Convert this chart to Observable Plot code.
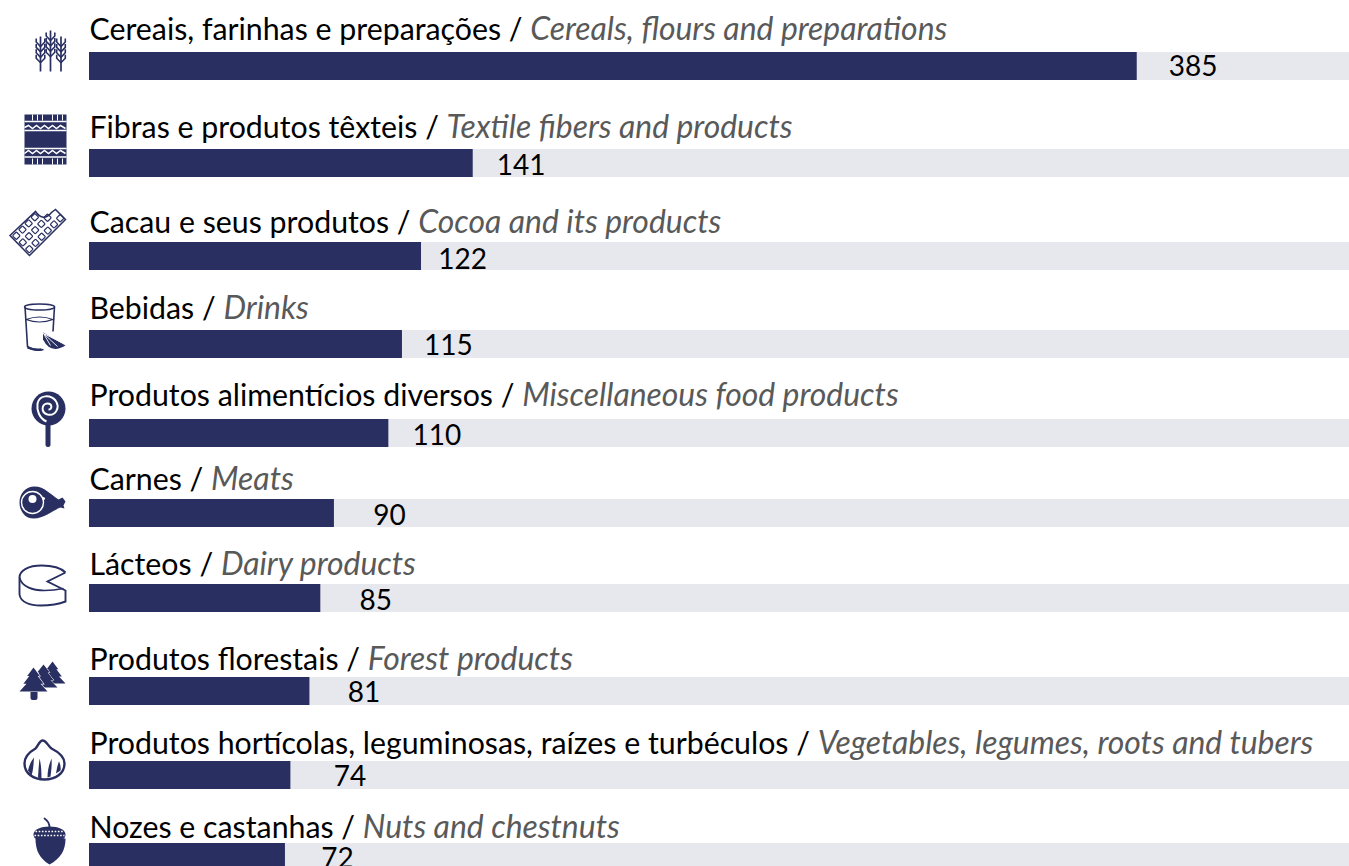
<!DOCTYPE html>
<html><head><meta charset="utf-8">
<script src="https://cdn.jsdelivr.net/npm/d3@7"></script>
<script src="https://cdn.jsdelivr.net/npm/@observablehq/plot@0.6"></script>
<style>
html,body{margin:0;padding:0;background:#fff;overflow:hidden}
svg{display:block}
</style></head><body><div id="chart"></div>
<script>
const labelsPt = ["Cereais, farinhas e preparações","Fibras e produtos têxteis","Cacau e seus produtos","Bebidas","Produtos alimentícios diversos","Carnes","Lácteos","Produtos florestais","Produtos hortícolas, leguminosas, raízes e turbéculos","Nozes e castanhas"];
const labelsEn = ["Cereals, flours and preparations","Textile fibers and products","Cocoa and its products","Drinks","Miscellaneous food products","Meats","Dairy products","Forest products","Vegetables, legumes, roots and tubers","Nuts and chestnuts"];
const values = [385,141,122,115,110,90,85,81,74,72];
const axisMax = 463;

// layout / style: pixel offsets from an evenly spaced row grid
const firstCenter = 66, lastCenter = 857;
const rowNudge = [66,163,256,344,433,513,598,691,775,857].map((c,i)=>c-(firstCenter+i*(lastCenter-firstCenter)/9));
const labelDy = [-36,-35,-33,-35,-37,-33,-33,-31,-31,-29];
const valueDy = [1,3,4,2,3,3,3,2,2,2];
const valueDx = [56,48,41,46,48,55,55,54,59,52];
const iconDy = [-16,-24,-24,-18,-14,-11,-12,-11,-16,-16];
const NAVY="#292f61", TRACK="#e7e8ee", GREY="#595959";

const iconCy=[50,139,232,326,419,502,586,680,759,841];
const S=`stroke="${NAVY}" fill="none"`, F=`fill="${NAVY}"`;
function wheatEar(x,t){let s=`<path d="M${x} ${t} V71" stroke-width="1.7" ${S}/>`;
  for(let i=0;i<4;i++){const y=t+2+i*5.4;s+=`<path d="M${x-4.3} ${y} V${y+3.5} L${x} ${y+8} L${x+4.3} ${y+3.5} V${y}" stroke-width="1.6" ${S}/>`;}
  return s;}
function choc(){
  let s=`<path d="M9.5 235 L35 211 Q43 222 51 212 L55 209 L65 219 L29 255Z" stroke-width="1.5" ${S}/>`;
  for(let i=0;i<6;i++)for(let j=0;j<3;j++){
    const cx=9.5+(i+.5)/6*37+(j+.5)/3*19.5, cy=235-(i+.5)/6*37+(j+.5)/3*20;
    if(cy<215.5&&cx>33&&cx<57)continue;
    s+=`<rect x="${cx-2.7}" y="${cy-2.7}" width="5.4" height="5.4" rx="0.8" transform="rotate(45 ${cx} ${cy})" stroke-width="1.2" ${S}/>`;}
  return s;}
function tree(x,y,h,w,front){
  const p=[[0,0],[.45,.35],[.3,.35],[.72,.68],[.5,.68],[1,1]];
  const pts=[...p.map(([a,b])=>[x+a*w,y+b*h]),...p.slice(1).reverse().map(([a,b])=>[x-a*w,y+b*h])];
  return `<path d="M${pts.map(q=>q.join(" ")).join("L")}Z" ${F} stroke="#fff" stroke-width="${front?1.2:1}" paint-order="stroke"/>`;}
const iconArt=[
 wheatEar(40,36)+wheatEar(50,30)+wheatEar(60.5,36),
 `<rect x="24" y="114" width="42" height="50" ${F}/>`+
 `<path d="M32 114V120M37 114V120M42 114V120M52 114V120M57 114V120M62 114V120M32 158V164M37 158V164M42 158V164M52 158V164M57 158V164M62 158V164" stroke="#fff" stroke-width="1"/>`+
 `<path d="M24 121H66M24 130H66M24 148H66M24 156.5H66" stroke="#fff" stroke-width="1.3"/>`+
 `<path d="M24 127L28 125L32 128L36 125L40 128L44 125L48 128L52 125L56 128L60 125L65 128M24 153L28 150L32 153L36 150L40 153L44 150L48 153L52 150L56 153L60 150L65 153" stroke="#fff" fill="none" stroke-width="1.5"/>`,
 choc(),
 `<path d="M24.5 306 L27 346 Q34 351 43 349M54 306 L52.5 331" stroke-width="1.6" ${S}/><path d="M27 347 Q34 350 41 349" stroke-width="2.4" ${S}/><ellipse cx="39" cy="306.5" rx="15" ry="3" stroke-width="1.4" ${S}/><path d="M25.5 319 Q39 324 52.5 319 Q39 314 25.5 319" stroke-width="1.2" ${S}/>`+
 `<path d="M41 330 L66 345 Q50 356 41 340Z" fill="#fff"/><path d="M42.5 332 L65 345 Q50 354 42.5 339Z" ${F}/><path d="M43 333 L50 345M43 333 L57 346M43 333 L61 342" stroke="#fff" stroke-width="0.9"/>`,
 `<path d="M47.5 424V444" stroke="${NAVY}" stroke-width="5" stroke-linecap="round"/><circle cx="48" cy="408" r="17" ${F}/><path d="M48 409 C52 409 52 403 47 403 C41 403 40 412 47 414 C55 416 60 407 55 400 C50 394 39 394 37 403 C36 410 39 418 46 421" stroke="#fff" stroke-width="2" fill="none"/>`,
 `<path d="M34 486 C44 486 50 494 58 499 L62 497 L65 501 L63 505 L64 508 L60 507 C52 510 44 518 33 518 C24 518 19 510 19 502 C19 493 25 486 34 486Z" ${F}/><circle cx="32" cy="502" r="11" stroke="#fff" stroke-width="1.4" fill="none"/><circle cx="32" cy="498.5" r="4" fill="#fff"/><circle cx="43" cy="498" r="1.5" fill="#fff"/>`,
 `<path d="M65 572 C60 567 50 565 41 565 C28 565 19 570 19 577 V594 C20 602 30 605 40 605 C50 605 60 603 65 601 V590 L47 581 L65 572" stroke-width="1.9" ${S}/><path d="M19 577 C21 586 32 590 44 590 C52 590 58 589 63 588" stroke-width="1.7" ${S}/>`,
 tree(52,661,22,13)+tree(43,664,23,14)+`<path d="M30 690 H37 V697.5 Q37 699.5 35 699.5 H32 Q30 699.5 30 697.5Z" ${F}/>`+tree(33,667,24,14,true),
 `<path d="M42 740 C46 740 47 745 51 748 C59 752 64 757 64 763 C64 773 55 779 44 779 C33 779 24 773 24 763 C24 757 28 752 35 748 C38 745 39 740 42 740Z" stroke-width="2.4" ${S}/><path d="M27.5 770 C29 764 31 760 33.5 757 C33 763 33 769 31 775ZM37.5 777 C38 769 38.5 763 39 758 C40.5 763 41 770 41 778ZM47 777 C47 769 49 763 51 758 C51.5 763 51 769 50 776ZM55.5 773 C56.5 767 57.5 763 58.5 761 C60 764 60.5 767 60 770Z" ${F}/>`,
 `<path d="M44 818 C47 820 49 823 49 827" stroke="${NAVY}" stroke-width="1.8" fill="none" stroke-linecap="round"/><path d="M35 838 H65 C65 850 60 858 49 864 C39 858 35 850 35 838Z" ${F}/><path d="M33 834 C33 829 40 826 49 826 C58 826 65 829 65 834 C65 837 63 839 60 839 H38 C35 839 33 837 33 834Z" ${F}/><path d="M35 831H63M34 835H64" stroke="#fff" stroke-width="1.5" stroke-dasharray="1.6 1.6"/>`
];
const iconSrc = iconArt.map((a,i)=>"data:image/svg+xml;charset=utf-8,"+encodeURIComponent(
 `<svg xmlns="http://www.w3.org/2000/svg" viewBox="0 ${iconCy[i]-45} 90 90" width="90" height="90">${a}</svg>`));

const rows = values.map((v,i)=>({row:i,value:v,pt:labelsPt[i],en:labelsEn[i],icon:iconSrc[i],max:axisMax}));
const FONT="Lato", LABEL_SIZE=30.3, EN_SIZE=31.9, VALUE_SIZE=28;

const plot = Plot.plot({
  width:1349,height:866,margin:0,marginLeft:89,marginRight:0,
  style:{background:"#fff",fontFamily:FONT},
  x:{domain:[0,axisMax],axis:null},
  y:{domain:[0,values.length-1],range:[firstCenter,lastCenter],axis:null},
  marks:rows.flatMap((r,i)=>{
    const dy=rowNudge[i];
    return [
      Plot.rect([r],{x1:0,x2:"max",y1:"row",y2:"row",insetTop:-14,insetBottom:-14,dy,fill:TRACK}),
      Plot.rect([r],{x1:0,x2:"value",y1:"row",y2:"row",insetTop:-14,insetBottom:-14,dy,fill:NAVY}),
      Plot.text([r],{x:0,y:"row",dx:0,dy:dy+labelDy[i],text:d=>d.pt+" / "+d.en,textAnchor:"start",fontSize:LABEL_SIZE,fill:"#000",className:"cat"}),
      Plot.text([r],{x:"value",y:"row",dx:valueDx[i],dy:dy+valueDy[i],text:"value",textAnchor:"middle",fontSize:VALUE_SIZE,fill:"#000"}),
      Plot.image([r],{frameAnchor:"left",y:"row",dx:-44,dy:dy+iconDy[i],src:"icon",width:90,height:90})
    ];
  })
});
// Portuguese part upright, English part grey italic, within the same text element
d3.select(plot).selectAll(".cat text").each(function(){
  const t=this.textContent; const k=t.indexOf(" / "); if(k<0)return;
  const el=d3.select(this); el.text(null); el.style("white-space","pre");
  el.append("tspan").text(t.slice(0,k+3));
  el.append("tspan").attr("fill",GREY).attr("font-style","italic").attr("font-size",EN_SIZE).text(t.slice(k+3));
});
document.getElementById("chart").append(plot);
</script></body></html>
